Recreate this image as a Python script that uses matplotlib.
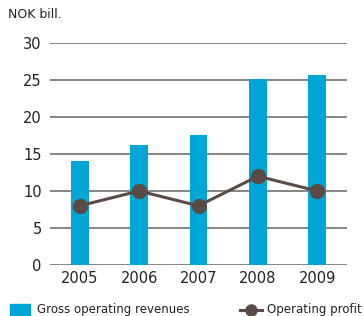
import numpy as np
import matplotlib.pyplot as plt

years = ["2005", "2006", "2007", "2008", "2009"]
revenues = [14.0, 16.2, 17.6, 25.1, 25.7]
profit = [8.0, 10.0, 8.0, 12.0, 10.0]
yticks = [0, 5, 10, 15, 20, 25, 30]

bar_color = "#00a6d6"
line_color = "#5b4b47"
grid_color = "#858585"

fig = plt.figure(figsize=(3.64, 3.16), dpi=100)
ax = fig.add_axes([50 / 364, 1 - 265 / 316, 297 / 364, 222 / 316])

x = np.arange(len(years))
ax.bar(x, revenues, width=0.3, color=bar_color, zorder=2)
ax.plot(x, profit, color=line_color, lw=2.2, marker="o", ms=10, zorder=3)

ax.set_xlim(-0.5, len(years) - 0.5)
ax.set_ylim(0, 30)
ax.set_yticks(yticks)
ax.set_xticks(x)
ax.set_xticklabels(years)
for s in ax.spines.values():
    s.set_visible(False)
ax.yaxis.grid(True, color=grid_color, lw=1.4, zorder=1)
ax.set_axisbelow(True)
ax.tick_params(axis="both", length=0, labelsize=10.5, colors="#222222")
ax.tick_params(axis="y", pad=6)
ax.tick_params(axis="x", pad=4)

fig.text(8 / 364, 1 - 14 / 316, "NOK bill.", fontsize=9, color="#222222", va="center")

# legend
fig.patches.append(plt.Rectangle((10 / 364, 1 - 316 / 316), 20 / 364, 12 / 316,
                                 transform=fig.transFigure, color=bar_color))
fig.text(37 / 364, 1 - 310 / 316, "Gross operating revenues", fontsize=8.5, color="#222222", va="center")
fig.lines.append(plt.Line2D([240 / 364, 262 / 364], [1 - 310 / 316] * 2, transform=fig.transFigure,
                            color=line_color, lw=2.2))
fig.lines.append(plt.Line2D([251 / 364], [1 - 310 / 316], transform=fig.transFigure,
                            color=line_color, marker="o", ms=8))
fig.text(267 / 364, 1 - 310 / 316, "Operating profit", fontsize=8.5, color="#222222", va="center")

fig.savefig("out.png", dpi=100)
